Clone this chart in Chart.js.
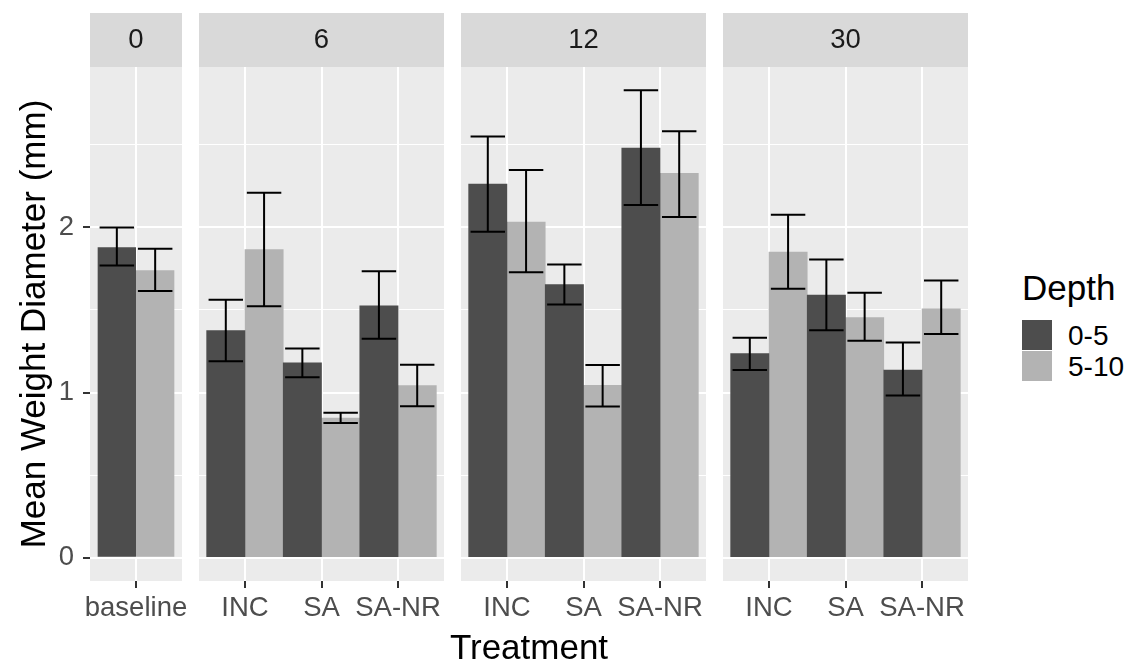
<!DOCTYPE html>
<html>
<head>
<meta charset="utf-8">
<script src="https://cdn.jsdelivr.net/npm/chart.js@4.4.1/dist/chart.umd.min.js"></script>
<style>
  html, body { margin: 0; padding: 0; background: #ffffff; }
  #wrap { position: relative; width: 1131px; height: 662px; overflow: hidden;
          font-family: 'Liberation Sans', Arial, Helvetica, sans-serif; }
  .pc { position: absolute; top: 0; }
  .pc canvas { display: block; }
  #xtitle { position: absolute; left: 379px; width: 300px; top: 629px; text-align: center;
            font-size: 35px; line-height: 35px; color: #000; white-space: nowrap; }
  #legTitle { position: absolute; left: 1022px; top: 270px; font-size: 35px; line-height: 35px; color: #000; }
  .key { position: absolute; left: 1022px; width: 30px; height: 30px; }
  .klab { position: absolute; left: 1068px; font-size: 28px; line-height: 28px; color: #000; }
</style>
</head>
<body>
<div id="wrap">
  <div class="pc" style="left:0px"><canvas id="c0" width="200" height="630"></canvas></div>
  <div class="pc" style="left:199px"><canvas id="c1" width="245" height="630"></canvas></div>
  <div class="pc" style="left:461px"><canvas id="c2" width="245" height="630"></canvas></div>
  <div class="pc" style="left:723px"><canvas id="c3" width="245" height="630"></canvas></div>
  <div id="xtitle">Treatment</div>
  <div id="legend"></div>
</div>
<script>
// ---------------- data ----------------
const facetLabels = ['0', '6', '12', '30'];
const depthLabels = ['0-5', '5-10'];
const depthColors = ['#4D4D4D', '#B3B3B3'];

const cats0  = ['baseline'];
const cats6  = ['INC', 'SA', 'SA-NR'];
const cats12 = ['INC', 'SA', 'SA-NR'];
const cats30 = ['INC', 'SA', 'SA-NR'];

// facet 0
const mean05_0  = [1.88];
const low05_0   = [1.77];
const high05_0  = [2.00];
const mean510_0 = [1.74];
const low510_0  = [1.615];
const high510_0 = [1.87];

// facet 6
const mean05_6  = [1.375, 1.18, 1.525];
const low05_6   = [1.19, 1.093, 1.325];
const high05_6  = [1.562, 1.267, 1.735];
const mean510_6 = [1.865, 0.845, 1.042];
const low510_6  = [1.522, 0.815, 0.917];
const high510_6 = [2.21, 0.877, 1.168];

// facet 12
const mean05_12  = [2.263, 1.653, 2.48];
const low05_12   = [1.973, 1.533, 2.135];
const high05_12  = [2.55, 1.776, 2.83];
const mean510_12 = [2.033, 1.044, 2.327];
const low510_12  = [1.728, 0.916, 2.063];
const high510_12 = [2.347, 1.167, 2.583];

// facet 30
const mean05_30  = [1.236, 1.59, 1.136];
const low05_30   = [1.136, 1.377, 0.982];
const high05_30  = [1.331, 1.805, 1.303];
const mean510_30 = [1.851, 1.454, 1.507];
const low510_30  = [1.628, 1.313, 1.354];
const high510_30 = [2.076, 1.605, 1.679];

const yMajorTicks = [0, 1, 2];
const yMajorLabels = ['0', '1', '2'];
const yMinorTicks = [0.5, 1.5, 2.5];

const yTitle = 'Mean Weight Diameter (mm)';
const xTitle = 'Treatment';
const legendTitle = 'Depth';

// ---------------- helpers ----------------
const FONT = "'Liberation Sans', Arial, Helvetica, sans-serif";
const STRIP_H = 54;

const allHigh = [].concat(high05_0, high510_0, high05_6, high510_6, high05_12, high510_12, high05_30, high510_30);
const dataMax = Math.max(...allHigh);
const yMin = -0.05 * dataMax;
const yMax = dataMax * 1.05;
const yTickValues = yMajorTicks.concat(yMinorTicks).sort((a, b) => a - b);
const isMajor = v => yMajorTicks.indexOf(v) >= 0;

const panelBg = {
  id: 'panelBg',
  beforeDraw(chart) {
    const { ctx, chartArea: a } = chart;
    ctx.save();
    ctx.fillStyle = '#D9D9D9';
    ctx.fillRect(a.left, a.top - STRIP_H, a.right - a.left, STRIP_H);
    ctx.fillStyle = '#EBEBEB';
    ctx.fillRect(a.left, a.top, a.right - a.left, a.bottom - a.top);
    ctx.restore();
  }
};

const errorBars = {
  id: 'errorBars',
  afterDatasetsDraw(chart) {
    const ctx = chart.ctx;
    const ys = chart.scales.y;
    chart.data.datasets.forEach((ds, di) => {
      const meta = chart.getDatasetMeta(di);
      meta.data.forEach((bar, i) => {
        const lo = ys.getPixelForValue(ds.errLow[i]);
        const hi = ys.getPixelForValue(ds.errHigh[i]);
        const half = bar.width * 0.45;
        ctx.save();
        ctx.strokeStyle = '#000000';
        ctx.lineWidth = 2;
        ctx.beginPath();
        ctx.moveTo(bar.x, lo); ctx.lineTo(bar.x, hi);
        ctx.moveTo(bar.x - half, hi); ctx.lineTo(bar.x + half, hi);
        ctx.moveTo(bar.x - half, lo); ctx.lineTo(bar.x + half, lo);
        ctx.stroke();
        ctx.restore();
      });
    });
  }
};

function makePanel(id, facet, cats, m05, lo05, hi05, m510, lo510, hi510, first) {
  const n = cats.length;
  const toXY = arr => arr.map((v, i) => ({ x: i, y: v }));
  return new Chart(document.getElementById(id), {
    type: 'bar',
    data: {
      datasets: [
        { label: depthLabels[0], data: toXY(m05), errLow: lo05, errHigh: hi05,
          backgroundColor: depthColors[0], borderWidth: 0 },
        { label: depthLabels[1], data: toXY(m510), errLow: lo510, errHigh: hi510,
          backgroundColor: depthColors[1], borderWidth: 0 }
      ]
    },
    options: {
      responsive: false,
      animation: false,
      devicePixelRatio: 1,
      datasets: { bar: { barPercentage: 1, categoryPercentage: n === 1 ? 1 / (n + 0.2) : 1 } },
      layout: { padding: { left: 0, right: first ? 18 : 0, top: 0, bottom: 0 } },
      plugins: {
        legend: { display: false },
        tooltip: { enabled: false },
        title: {
          display: true, text: facet, fullSize: false, color: '#1A1A1A',
          font: { family: FONT, size: 27.5, weight: 'normal', lineHeight: 1.2 },
          padding: { top: 23.5, bottom: 10.5 }
        }
      },
      scales: {
        x: {
          type: 'linear', min: -0.6, max: n - 1 + 0.6, offset: false,
          afterBuildTicks: s => { s.ticks = cats.map((c, i) => ({ value: i })); },
          afterFit: s => { s.height = 49; s.paddingLeft = 0; s.paddingRight = 0; },
          grid: { offset: false, color: '#FFFFFF', lineWidth: 2, drawTicks: true,
                  tickColor: '#333333', tickWidth: 2, tickLength: 7 },
          border: { display: false },
          ticks: {
            autoSkip: false, maxRotation: 0, minRotation: 0, padding: 4,
            color: '#4D4D4D', font: { family: FONT, size: 27.5 },
            callback: v => (cats[v] !== undefined ? cats[v] : '')
          }
        },
        y: {
          type: 'linear', min: yMin, max: yMax, beginAtZero: false,
          afterBuildTicks: s => { s.ticks = yTickValues.map(v => ({ value: v })); },
          afterFit: s => { s.width = first ? 90 : 0; s.paddingTop = 0; s.paddingBottom = 0; },
          grid: {
            color: '#FFFFFF',
            lineWidth: ctx => (ctx.tick && isMajor(ctx.tick.value) ? 2 : 1),
            drawTicks: first, tickLength: 7, tickWidth: 2,
            tickColor: ctx => (ctx.tick && isMajor(ctx.tick.value) ? '#333333' : 'rgba(0,0,0,0)')
          },
          border: { display: false },
          ticks: {
            display: first, padding: 9, color: '#4D4D4D',
            font: { family: FONT, size: 27.5 },
            callback: v => { const k = yMajorTicks.indexOf(v); return k >= 0 ? yMajorLabels[k] : ''; }
          },
          title: {
            display: first, text: yTitle, color: '#000000',
            font: { family: FONT, size: 35, weight: 'normal', lineHeight: 1.2 },
            padding: { top: 14, bottom: 0 }
          }
        }
      }
    },
    plugins: [panelBg, errorBars]
  });
}

makePanel('c0', facetLabels[0], cats0,  mean05_0,  low05_0,  high05_0,  mean510_0,  low510_0,  high510_0,  true);
makePanel('c1', facetLabels[1], cats6,  mean05_6,  low05_6,  high05_6,  mean510_6,  low510_6,  high510_6,  false);
makePanel('c2', facetLabels[2], cats12, mean05_12, low05_12, high05_12, mean510_12, low510_12, high510_12, false);
makePanel('c3', facetLabels[3], cats30, mean05_30, low05_30, high05_30, mean510_30, low510_30, high510_30, false);

// axis title + legend (text elements)
document.getElementById('xtitle').textContent = xTitle;
const leg = document.getElementById('legend');
const lt = document.createElement('div');
lt.id = 'legTitle'; lt.textContent = legendTitle; leg.appendChild(lt);
depthLabels.forEach((lab, i) => {
  const k = document.createElement('div');
  k.className = 'key'; k.style.top = (320 + 31 * i) + 'px'; k.style.background = depthColors[i];
  leg.appendChild(k);
  const t = document.createElement('div');
  t.className = 'klab'; t.style.top = (321.5 + 31 * i) + 'px'; t.textContent = lab;
  leg.appendChild(t);
});
</script>
</body>
</html>
